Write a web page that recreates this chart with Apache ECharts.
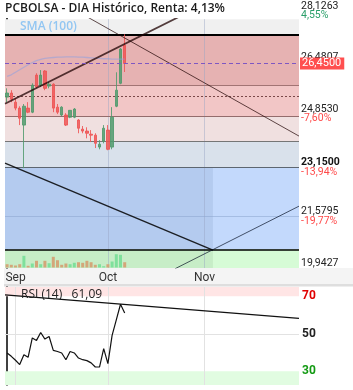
<!DOCTYPE html>
<html>
<head>
<meta charset="utf-8">
<script src="https://cdn.jsdelivr.net/npm/echarts@6/dist/echarts.min.js"></script>
<style>
  html, body { margin: 0; padding: 0; background: #fff; }
  #chart { width: 353px; height: 390px; }
</style>
</head>
<body>
<div id="chart"></div>
<script>
// sesiones (2022) + huecos futuros a la derecha
const days = ['30/08','31/08','01/09','02/09','05/09','06/09','07/09','08/09','09/09','12/09',
  '13/09','14/09','15/09','16/09','19/09','20/09','21/09','22/09','23/09','26/09',
  '27/09','28/09','29/09','30/09','03/10','04/10','05/10','06/10','07/10'];
const futureSlots = 41;
const monthTicks = [[2, 'Sep'], [24, 'Oct'], [47, 'Nov']];

const open  = [25.38,25.51,25.22,25.03,24.49,25.03,24.90,26.08,25.76,26.21,25.73,25.79,25.06,24.81,24.81,24.74,24.74,24.65,24.36,24.30,24.20,24.17,23.79,23.98,24.33,23.79,25.09,25.82,27.03];
const close = [25.51,25.31,25.03,24.71,25.09,24.90,25.76,25.70,26.08,25.66,25.79,25.03,24.90,25.06,24.49,24.96,25.00,24.39,24.30,24.23,24.17,23.91,23.88,24.39,23.72,24.74,25.60,26.91,26.45];
const low   = [25.22,25.22,24.96,24.49,23.12,24.87,24.87,25.66,25.70,25.60,25.66,24.90,24.84,24.77,24.46,24.71,24.71,24.23,24.23,24.07,23.95,23.76,23.72,23.91,23.69,23.72,25.06,25.79,26.18];
const high  = [25.66,25.60,25.35,25.09,25.16,25.22,25.82,26.14,26.24,26.24,25.86,25.82,25.16,25.09,24.87,24.96,25.03,24.68,24.46,24.42,24.33,24.23,24.01,24.49,24.49,25.06,26.17,26.94,27.38];
const sma100 = [26.04,26.09,26.17,26.25,26.33,26.41,26.48,26.54,26.58,26.61,26.63,26.64,26.65,26.65,26.66,26.66,26.66,26.65,26.65,26.64,26.63,26.62,26.61,26.60,26.60,26.59,26.59,26.59,26.59];
const volume = [330,270,200,330,1170,170,400,670,330,670,430,1070,730,270,400,330,470,530,470,670,530,270,330,130,330,600,1330,1270,530];
const volUp  = [0,0,0,0,1,0,1,0,1,0,1,0,0,0,0,1,1,0,0,0,0,0,1,1,0,1,1,1,0];
const rsi = [39.8,38.0,35.9,33.6,38.9,37.5,47.8,46.5,50.7,47.2,48.6,41.2,40.6,39.8,36.2,40.6,39.8,37.1,36.2,35.7,34.5,32.3,32.3,42.1,34.1,49.2,57.5,65.8,61.09];

// niveles fibonacci y otras referencias
const fibLevels = [27.383, 25.767, 24.767, 23.9585, 23.15, 20.534];
const fibPivot = 49;   // indice donde se apoya el minimo
const lastPrice = 26.45;
const avgLine = 25.40;
const headerTop = 27.86;
// lineas de tendencia [indice, precio]
const trend1 = [[-0.5, 25.17], [50, 28.54]];
const trend2 = [[11, 28.54], [69.5, 24.14]];
const trend3 = [[-0.5, 23.28], [49, 20.51]];
const trend4 = [[40, 19.92], [69.5, 21.91]];
const rsiTrend = [[-0.5, 70.8], [69.5, 58.3]];

const yTicks = [19.9427, 21.5795, 23.15, 24.853, 26.4807, 28.1263];
const yPct = ['', '-19,77%', '-13,94%', '-7,60%', '', '4,55%'];
const rsiTicks = [30, 50, 70];

let categories = days.slice();
for (let i = 0; i < futureSlots; i++) categories.push('n' + (i + 1));
let ohlc = open.map((o, i) => [o, close[i], low[i], high[i]]);
let fmt = v => v.toFixed(4).replace('.', ',');
let yMin = 19.9427, yMax = 28.47;

let vLine = (i, y0, y1, color) => [
  { xAxis: i, yAxis: y0, lineStyle: { color: color, width: 1, type: 'solid' } },
  { xAxis: i, yAxis: y1 }
];
let hLine = (v, color, width, type) => ({ yAxis: v, lineStyle: { color: color, width: width, type: type || 'solid' } });
let trendSeries = (data, color, width, xi, yi) => ({
  type: 'line', data: data, xAxisIndex: xi, yAxisIndex: yi, symbol: 'none',
  lineStyle: { color: color, width: width }, silent: true, z: 4
});

let option = {
  animation: false,
  title: [
    {
      text: 'PCBOLSA - DIA Histórico, Renta: 4,13%',
      left: 2, top: 0, padding: [3, 3],
      backgroundColor: '#fff',
      textStyle: { fontFamily: 'Open Sans', fontSize: 12, fontWeight: 600, color: '#1a1a1a' }
    },
    {
      text: 'SMA (100)', left: 20, top: 21, padding: 0,
      textStyle: { fontFamily: 'Open Sans', fontSize: 12, fontWeight: 600, color: '#92c6f2' }
    },
    {
      text: 'RSI (14)   61,09', left: 21, top: 289, padding: 0,
      textStyle: { fontFamily: 'Open Sans', fontSize: 12, fontWeight: 400, color: '#222' }
    }
  ],
  graphic: [
    { type: 'rect', z: -1, shape: { x: 4, y: 268, width: 349, height: 17 }, style: { fill: '#f4f4f4' } },
    { type: 'rect', z: -1, shape: { x: 4, y: 284, width: 349, height: 2.5 }, style: { fill: '#dedede' } }
  ],
  grid: [
    { left: 5, top: 0, width: 294, height: 268 },
    { left: 5, top: 249.5, width: 294, height: 18 },
    { left: 5, top: 287, width: 294, height: 98 }
  ],
  xAxis: [
    {
      type: 'category', gridIndex: 0, data: categories, boundaryGap: true,
      axisLine: { show: false }, axisTick: { show: false }, splitLine: { show: false },
      axisLabel: {
        margin: 4, fontFamily: 'Roboto', fontSize: 12, color: '#333',
        interval: idx => monthTicks.some(m => m[0] === idx),
        formatter: (v, idx) => { let m = monthTicks.find(t => t[0] === idx); return m ? m[1] : ''; }
      }
    },
    { type: 'value', gridIndex: 0, min: -0.5, max: 69.5, show: false },
    { type: 'category', gridIndex: 1, data: categories, show: false },
    { type: 'category', gridIndex: 2, data: categories, show: false },
    { type: 'value', gridIndex: 2, min: -0.5, max: 69.5, show: false }
  ],
  yAxis: [
    {
      type: 'value', gridIndex: 0, position: 'right', min: yMin, max: yMax, scale: true,
      axisLine: { show: true, lineStyle: { color: '#000', width: 1.5 } },
      axisTick: { show: false }, splitLine: { show: false },
      axisLabel: {
        customValues: yTicks, margin: 2,
        formatter: function (v) {
          let i = yTicks.indexOf(v);
          let pct = yPct[i] || '';
          let ps = i === 2 ? 'pb' : 'p';
          let cs = pct.charAt(0) === '-' ? 'r' : 'g';
          return '{' + ps + '|' + fmt(v) + '}\n{' + cs + '|' + (pct || ' ') + '}';
        },
        rich: {
          p:  { fontFamily: 'Roboto', fontSize: 10.5, color: '#222', lineHeight: 9.5 },
          pb: { fontFamily: 'Roboto', fontSize: 10.5, color: '#111', fontWeight: 'bold', lineHeight: 9.5 },
          r:  { fontFamily: 'Roboto', fontSize: 10.5, color: '#ff4a4a', lineHeight: 9.5 },
          g:  { fontFamily: 'Roboto', fontSize: 10.5, color: '#2a9f6a', lineHeight: 9.5 }
        }
      }
    },
    { type: 'value', gridIndex: 1, min: 0, max: 1800, show: false },
    {
      type: 'value', gridIndex: 2, position: 'right', min: 22.7, max: 75,
      axisLine: { show: true, lineStyle: { color: '#000', width: 1.5 } },
      axisTick: { show: false }, splitLine: { show: false },
      axisLabel: {
        customValues: rsiTicks, margin: 3, fontFamily: 'Roboto', fontSize: 12, fontWeight: 'bold',
        color: v => v >= 70 ? '#e00000' : (v <= 30 ? '#139a13' : '#222')
      }
    }
  ],
  series: [
    {
      type: 'candlestick', name: 'PCBOLSA', xAxisIndex: 0, yAxisIndex: 0,
      data: ohlc, barWidth: 3,
      itemStyle: {
        color: '#4f9a6c', color0: '#ef5353',
        borderColor: '#4f9a6c', borderColor0: '#ef5353', borderWidth: 1, opacity: 0.85
      },
      markArea: {
        silent: true,
        data: [
          [{ yAxis: fibLevels[0], itemStyle: { color: '#f0f0f0' } }, { yAxis: headerTop }],
          [{ yAxis: fibLevels[1], itemStyle: { color: '#e6b2b2' } }, { yAxis: fibLevels[0] }],
          [{ yAxis: fibLevels[2], itemStyle: { color: '#f2c6c6' } }, { yAxis: fibLevels[1] }],
          [{ yAxis: fibLevels[3], itemStyle: { color: '#f0e0e0' } }, { yAxis: fibLevels[2] }],
          [{ yAxis: fibLevels[4], itemStyle: { color: '#d9e1eb' } }, { yAxis: fibLevels[3] }],
          [{ yAxis: fibLevels[5], itemStyle: { color: '#b4cbef' } }, { yAxis: fibLevels[4] }],
          [{ yAxis: fibLevels[5], xAxis: fibPivot, itemStyle: { color: '#c3d9fc' } }, { yAxis: fibLevels[4] }],
          [{ yAxis: yMin, itemStyle: { color: '#c7edc7' } }, { yAxis: fibLevels[5] }],
          [{ yAxis: yMin, xAxis: fibPivot, itemStyle: { color: '#d6fbd6' } }, { yAxis: fibLevels[5] }]
        ]
      },
      markLine: {
        silent: true, symbol: ['none', 'none'], z: 1.5,
        label: { show: false },
        data: [
          vLine(monthTicks[1][0], yMin, headerTop, 'rgba(150,165,195,0.45)'),
          vLine(monthTicks[2][0], yMin, headerTop, 'rgba(150,165,195,0.45)'),
          hLine(yTicks[1], 'rgba(140,165,205,0.55)', 1),
          hLine(fibLevels[0], '#000', 2),
          hLine(fibLevels[1], '#a27474', 1.2),
          hLine(fibLevels[2], '#946c6c', 1.2),
          hLine(fibLevels[3], '#767676', 1.2),
          hLine(fibLevels[4], '#5d6670', 1.2),
          hLine(fibLevels[5], '#000', 1.5),
          hLine(avgLine, '#7a4848', 1, [2, 2])
        ]
      }
    },
    {
      type: 'line', name: 'SMA (100)', xAxisIndex: 0, yAxisIndex: 0, data: sma100,
      symbol: 'none', lineStyle: { color: 'rgba(140,160,225,0.55)', width: 1.3 },
      markLine: {
        silent: true, symbol: ['none', 'none'], z: 6,
        data: [
          {
            yAxis: lastPrice,
            lineStyle: { color: '#7e57c2', width: 1, type: [4, 3] },
            label: {
              show: true, position: 'end', distance: 1,
              formatter: fmt(lastPrice), color: '#fff', backgroundColor: '#ff4f4f',
              fontFamily: 'Roboto', fontSize: 11, padding: [1, 3, 0, 2]
            }
          }
        ]
      }
    },
    trendSeries(trend1, 'rgba(30,0,0,0.75)', 1.8, 1, 0),
    trendSeries(trend2, 'rgba(30,0,0,0.7)', 1, 1, 0),
    trendSeries(trend3, 'rgba(0,0,0,0.85)', 1.4, 1, 0),
    trendSeries(trend4, 'rgba(10,20,40,0.7)', 1, 1, 0),
    {
      type: 'bar', name: 'Volumen', xAxisIndex: 2, yAxisIndex: 1, barWidth: 3,
      data: volume.map((v, i) => ({ value: v, itemStyle: { color: volUp[i] ? '#7fe09c' : '#d3a67a' } }))
    },
    {
      type: 'line', name: 'RSI (14)', xAxisIndex: 3, yAxisIndex: 2, data: rsi,
      symbol: 'none', lineStyle: { color: '#111', width: 1.2 },
      markArea: {
        silent: true,
        data: [
          [{ yAxis: 70, itemStyle: { color: '#ffe5e5' } }, { yAxis: 75 }],
          [{ yAxis: 22.7, itemStyle: { color: '#e1fce1' } }, { yAxis: 30 }]
        ]
      },
      markLine: {
        silent: true, symbol: ['none', 'none'], z: 1.5,
        label: { show: false },
        data: [
          hLine(50, '#e2e2e2', 1),
          vLine(monthTicks[0][0], 22.7, 75, '#e2e2e2'),
          vLine(monthTicks[1][0], 22.7, 75, '#e2e2e2'),
          vLine(monthTicks[2][0], 22.7, 75, '#e2e2e2'),
          {
            yAxis: rsi[rsi.length - 1],
            lineStyle: { opacity: 0 },
            label: {
              show: true, position: 'end', distance: 1, formatter: '61,099',
              color: '#fff', backgroundColor: '#000', fontFamily: 'Roboto', fontSize: 11, padding: [1, 2, 0, 2]
            }
          }
        ]
      }
    },
    trendSeries(rsiTrend, '#111', 1.2, 4, 2)
  ]
};

let myChart = echarts.init(document.getElementById('chart'));
myChart.setOption(option);
window.addEventListener('resize', function () {
  myChart.resize();
});
</script>
</body>
</html>
